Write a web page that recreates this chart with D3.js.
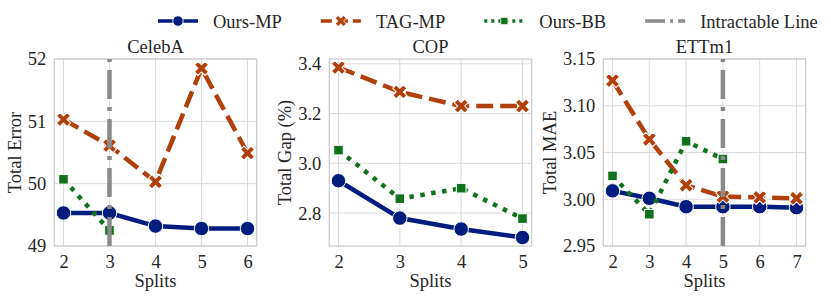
<!DOCTYPE html>
<html>
<head>
<meta charset="utf-8">
<script src="https://cdn.jsdelivr.net/npm/d3@7"></script>
<style>
body { margin: 0; background: #fff; }
</style>
</head>
<body>
<div id="chart"></div>
<script>
// legend / series names
const seriesNames = ["Ours-MP", "TAG-MP", "Ours-BB", "Intractable Line"];

// CelebA
const celebaSplits = [2, 3, 4, 5, 6];
const celebaOursMP = [49.53, 49.53, 49.32, 49.28, 49.28];
const celebaTagMP = [51.03, 50.61, 50.03, 51.85, 50.49];
const celebaOursBB = [50.07, 49.25];
const celebaIntractable = 3;
const celebaTicks = [49, 50, 51, 52];

// COP
const copSplits = [2, 3, 4, 5];
const copOursMP = [2.93, 2.78, 2.736, 2.702];
const copTagMP = [3.385, 3.287, 3.23, 3.23];
const copOursBB = [3.053, 2.858, 2.90, 2.778];
const copTicks = [2.8, 3.0, 3.2, 3.4];

// ETTm1
const ettSplits = [2, 3, 4, 5, 6, 7];
const ettOursMP = [3.009, 3.001, 2.992, 2.992, 2.992, 2.991];
const ettTagMP = [3.127, 3.064, 3.015, 3.003, 3.002, 3.001];
const ettOursBB = [3.025, 2.984, 3.062, 3.043];
const ettIntractable = 5;
const ettTicks = [2.95, 3.00, 3.05, 3.10, 3.15];

const width = 831, height = 299;
const plotTop = 59, plotBottom = 246, panelW = 202.4;

const colors = ["#001c7f", "#b1400d", "#12711c", "#8a8a8a"];
const dashes = [null, "17,7", "4.5,6.5", "29,8,4,8"];
const font = 18.5;
const family = "Liberation Serif, Times New Roman, Times, DejaVu Serif, serif";

const panels = [
    {title: "CelebA", ylabel: "Total Error", left: 54.3, splits: celebaSplits,
     mp: celebaOursMP, tag: celebaTagMP, bb: celebaOursBB, cut: celebaIntractable,
     ydom: [49, 52], ticks: celebaTicks, fmt: d3.format("d")},
    {title: "COP", ylabel: "Total Gap (%)", left: 329.3, splits: copSplits,
     mp: copOursMP, tag: copTagMP, bb: copOursBB, cut: null,
     ydom: null, ticks: copTicks, fmt: d3.format(".1f")},
    {title: "ETTm1", ylabel: "Total MAE", left: 603.3, splits: ettSplits,
     mp: ettOursMP, tag: ettTagMP, bb: ettOursBB, cut: ettIntractable,
     ydom: [2.95, 3.15], ticks: ettTicks, fmt: d3.format(".2f")}
];

const svg = d3.select("#chart").append("svg")
    .attr("width", width)
    .attr("height", height)
    .attr("font-family", family)
    .attr("font-size", font);

function marker(i, big) {
    if (i == 0) return d3.symbol().type(d3.symbolCircle).size(big ? 165 : 85)();
    if (i == 1) return d3.symbol().type(d3.symbolCross).size(big ? 125 : 75)();
    return d3.symbol().type(d3.symbolSquare).size(big ? 92 : 52)();
}

function txt(sel) {
    return sel.attr("font-family", family).attr("font-size", font).attr("fill", "#262626");
}

panels.forEach(p => {
    const s0 = p.splits[0], s1 = p.splits[p.splits.length - 1];
    const pad = (s1 - s0) * 0.05;
    const x = d3.scaleLinear().domain([s0 - pad, s1 + pad]).range([p.left, p.left + panelW]);
    let ydom = p.ydom;
    if (!ydom) {
        const ext = d3.extent(p.mp.concat(p.tag, p.bb));
        const m = (ext[1] - ext[0]) * 0.05;
        ydom = [ext[0] - m, ext[1] + m];
    }
    const y = d3.scaleLinear().domain(ydom).range([plotBottom, plotTop]);

    const g = svg.append("g");

    // grid
    g.append("g")
        .selectAll("line")
        .data(p.splits)
        .join("line")
        .attr("x1", d => x(d)).attr("x2", d => x(d))
        .attr("y1", plotTop).attr("y2", plotBottom)
        .attr("stroke", "#dcdcdc").attr("stroke-width", 1);
    g.append("g")
        .selectAll("line")
        .data(p.ticks)
        .join("line")
        .attr("x1", p.left).attr("x2", p.left + panelW)
        .attr("y1", d => y(d)).attr("y2", d => y(d))
        .attr("stroke", "#dcdcdc").attr("stroke-width", 1);

    // frame
    g.append("rect")
        .attr("x", p.left).attr("y", plotTop)
        .attr("width", panelW).attr("height", plotBottom - plotTop)
        .attr("fill", "none").attr("stroke", "#cccccc").attr("stroke-width", 1.25);

    // axes
    const xAxis = g.append("g")
        .attr("transform", `translate(0,${plotBottom})`)
        .call(d3.axisBottom(x).tickValues(p.splits).tickFormat(d3.format("d")).tickSize(0).tickPadding(9));
    const yAxis = g.append("g")
        .attr("transform", `translate(${p.left},0)`)
        .call(d3.axisLeft(y).tickValues(p.ticks).tickFormat(p.fmt).tickSize(0).tickPadding(8));
    [xAxis, yAxis].forEach(a => {
        a.select(".domain").remove();
        a.attr("font-family", family).attr("font-size", font);
        txt(a.selectAll("text"));
    });

    // axis labels
    let minX = p.left;
    yAxis.selectAll("text").each(function() {
        const b = this.getBBox();
        minX = Math.min(minX, p.left + b.x);
    });
    txt(g.append("text"))
        .attr("transform", `translate(${minX - 7},${(plotTop + plotBottom) / 2}) rotate(-90)`)
        .attr("text-anchor", "middle")
        .text(p.ylabel);
    txt(g.append("text"))
        .attr("x", p.left + panelW / 2).attr("y", 287)
        .attr("text-anchor", "middle")
        .text("Splits");
    txt(g.append("text"))
        .attr("x", p.left + panelW / 2).attr("y", 53)
        .attr("text-anchor", "middle")
        .text(p.title);

    // series
    const series = [p.mp, p.tag, p.bb];
    series.forEach((vals, i) => {
        const pts = vals.map((v, j) => [p.splits[j], v]);
        const line = d3.line().x(d => x(d[0])).y(d => y(d[1]));
        g.append("path")
            .datum(pts)
            .attr("d", line)
            .attr("fill", "none")
            .attr("stroke", colors[i])
            .attr("stroke-width", 4.5)
            .attr("stroke-dasharray", dashes[i]);
        g.append("g").selectAll("path")
            .data(pts)
            .join("path")
            .attr("d", marker(i, true))
            .attr("transform", d => `translate(${x(d[0])},${y(d[1])})` + (i == 1 ? " rotate(45)" : ""))
            .attr("fill", colors[i])
            .attr("stroke", "white")
            .attr("stroke-width", 1);
    });

    if (p.cut != null) {
        g.append("line")
            .attr("x1", x(p.cut)).attr("x2", x(p.cut))
            .attr("y1", plotBottom).attr("y2", plotTop)
            .attr("stroke", colors[3])
            .attr("stroke-width", 4.5)
            .attr("stroke-dasharray", dashes[3]);
    }
});

// legend
const legend = svg.append("g");
let lx = 158;
const ly = 21;
seriesNames.forEach((name, i) => {
    const item = legend.append("g");
    item.append("line")
        .attr("x1", lx).attr("x2", lx + 40)
        .attr("y1", ly).attr("y2", ly)
        .attr("stroke", colors[i])
        .attr("stroke-width", 3.5)
        .attr("stroke-dasharray", i == 0 ? null : (i == 1 ? "11,5" : (i == 2 ? "3,4" : "20,5,3,5")));
    if (i < 3) {
        item.append("path")
            .attr("d", marker(i, false))
            .attr("transform", `translate(${lx + 20},${ly})` + (i == 1 ? " rotate(45)" : ""))
            .attr("fill", colors[i])
            .attr("stroke", "white")
            .attr("stroke-width", 0.8);
    }
    const t = txt(item.append("text"))
        .attr("x", lx + 55).attr("y", ly + 6.5)
        .text(name);
    lx = lx + 55 + t.node().getComputedTextLength() + 39;
});
</script>
</body>
</html>
